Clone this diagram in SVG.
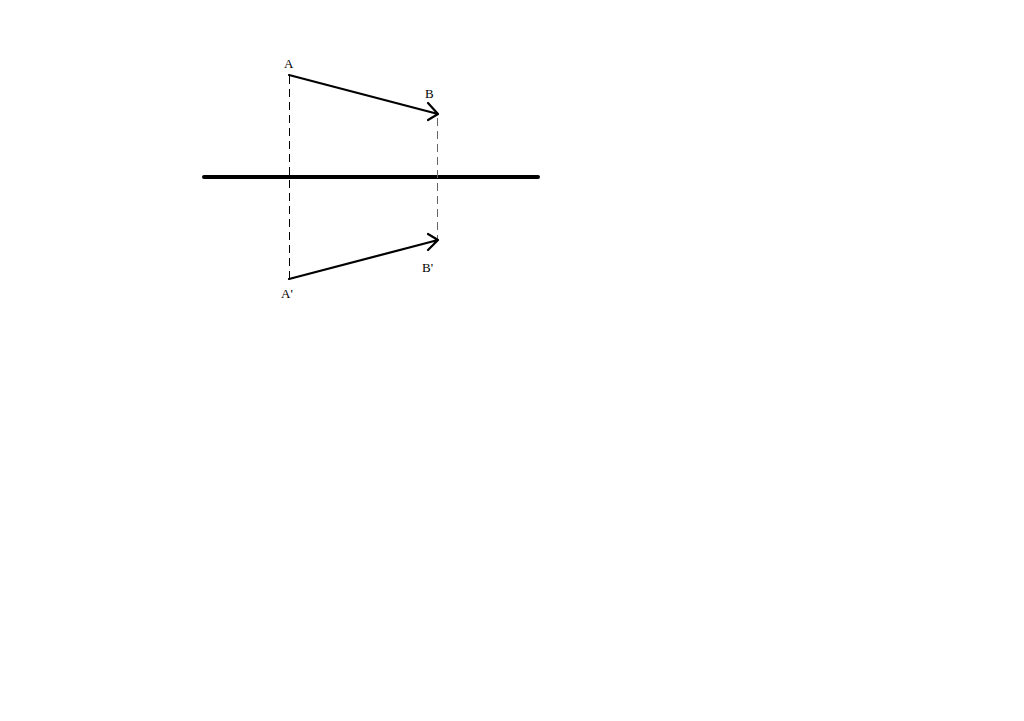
<svg xmlns="http://www.w3.org/2000/svg" width="1024" height="721" viewBox="0 0 1024 721">
<style>
.lbl{font-family:"Liberation Serif","DejaVu Serif",serif;font-size:13px;fill:#000}
.vec{stroke:#000;stroke-width:2.2;fill:none;stroke-linecap:round;stroke-linejoin:round}
.dash{stroke-width:1;fill:none;stroke-dasharray:8,5}
</style>
<rect width="1024" height="721" fill="#fff"/>
<g id="mirror"><line x1="204" y1="177" x2="538" y2="177" stroke="#000" stroke-width="4" stroke-linecap="round"/></g>
<g id="connectors">
<line class="dash" x1="289.5" y1="76" x2="289.5" y2="279" stroke="#000"/>
<line class="dash" x1="437.5" y1="118" x2="437.5" y2="240" stroke="#666"/>
<path id="AB" class="vec" d="M289,75 L438,114 M428,103 L438,114 L428,120"/>
<path id="ApBp" class="vec" d="M289,279 L438,240 M428,234 L438,240 L428,250"/>
</g>
<g id="A"><text class="lbl" x="284" y="68">A</text></g>
<g id="B"><text class="lbl" x="425" y="98">B</text></g>
<g id="Ap"><text class="lbl" x="281" y="298">A'</text></g>
<g id="Bp"><text class="lbl" x="422" y="272">B'</text></g>
</svg>
